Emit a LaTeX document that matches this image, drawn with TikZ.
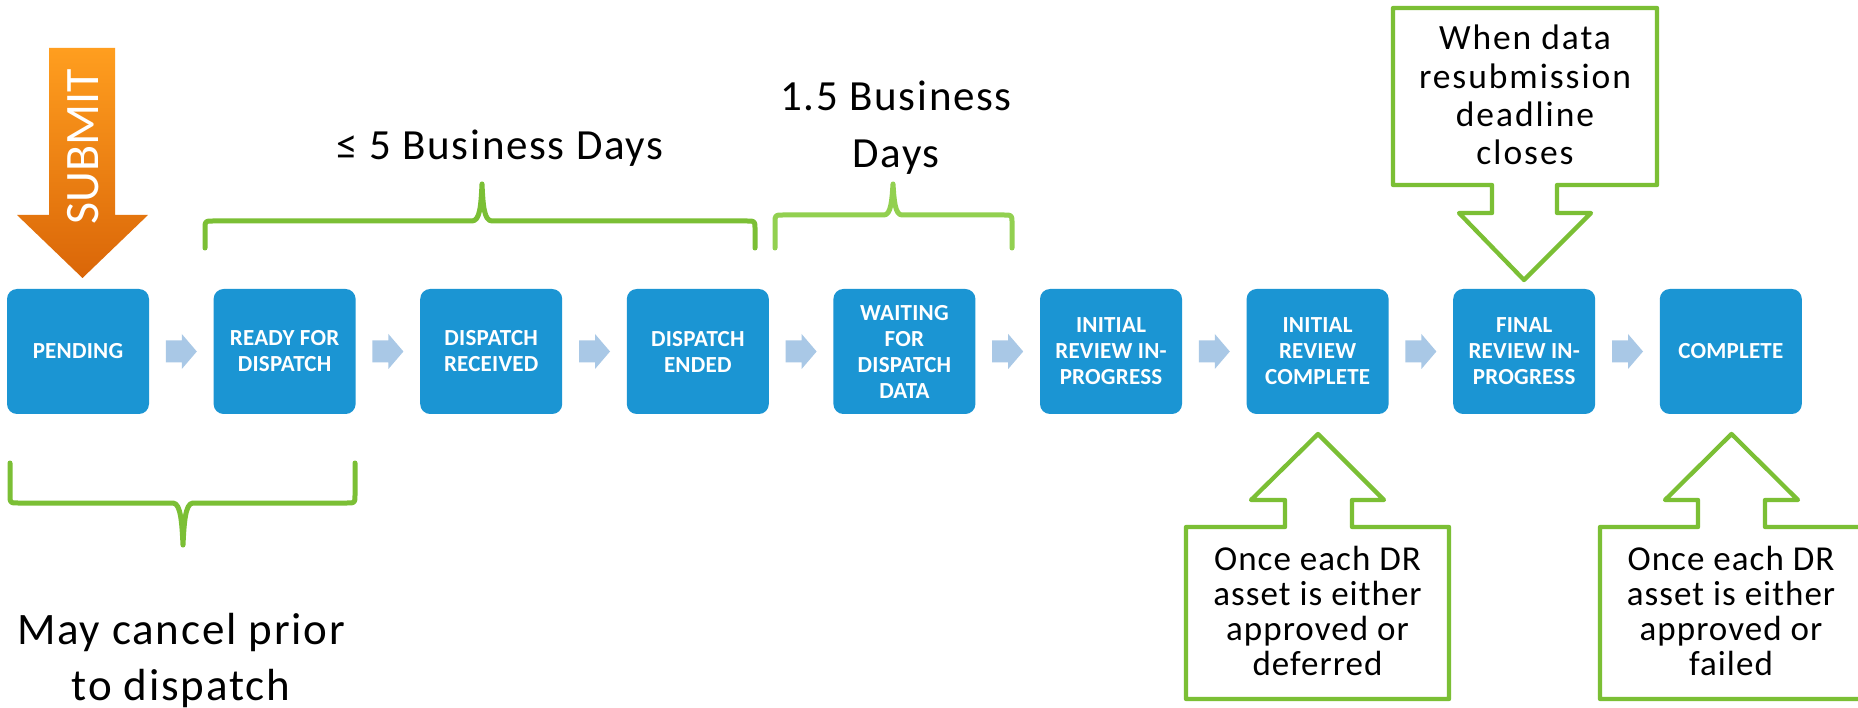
\documentclass[tikz,border=0pt]{standalone}
\usepackage{fontspec}
\setmainfont{Carlito}
\newfontfamily\lblfont{Carlito}[LetterSpace=4]
\newfontfamily\calfont{Carlito}[LetterSpace=3]
\newfontfamily\calwidefont{Carlito}[LetterSpace=5.5]
\newfontfamily\boxfont{Carlito}[LetterSpace=1]
\usetikzlibrary{calc}
\definecolor{boxblue}{HTML}{1B95D3}
\definecolor{arrowblue}{HTML}{A9C8E6}
\definecolor{grn}{HTML}{7BBF35}
\definecolor{grnlight}{HTML}{92D050}
\definecolor{orangetop}{HTML}{FF9E1F}
\definecolor{orangebot}{HTML}{DA6608}
\newcommand\stagearrow[2]{\fill[arrowblue] ($(#1.east)!0.5!(#2.west)$) ++(-15.5,11) -- ++(16,0) -- ++(0,6.5) -- ++(15,-17.5) -- ++(-15,-17.5) -- ++(0,6.5) -- ++(-16,0) -- cycle;}
\begin{document}
\begin{tikzpicture}[x=1pt,y=-1pt,
  stage/.style={fill=boxblue, rounded corners=10pt, minimum width=142pt, minimum height=125pt, inner sep=0pt, text=white, align=center, font={\boxfont\bfseries\fontsize{23}{26}\selectfont}},
  lbl/.style={align=center, inner sep=0pt, font={\lblfont\fontsize{43}{57}\selectfont}},
  calloutbox/.style={draw=grn, line width=4.3pt, fill=white, line join=round},
  callouttext/.style={align=center, inner sep=0pt},
  bracegreen/.style={draw=grn, line width=5pt, line cap=round, line join=round},
  bracelight/.style={draw=grnlight, line width=5pt, line cap=round, line join=round}]
\useasboundingbox (0,0) rectangle (1858,708);
\fill[white] (0,0) rectangle (1858,708);
% stages
\node[stage] (s1) at (78,351.5) {PENDING};
\node[stage] (s2) at (284.6,351.5) {READY FOR\\DISPATCH};
\node[stage] (s3) at (491.2,351.5) {DISPATCH\\RECEIVED};
\node[stage] (s4) at (697.8,351.5) {DISPATCH\\ENDED};
\node[stage] (s5) at (904.4,351.5) {WAITING\\FOR\\DISPATCH\\DATA};
\node[stage] (s6) at (1111,351.5) {INITIAL\\REVIEW IN-\\PROGRESS};
\node[stage] (s7) at (1317.6,351.5) {INITIAL\\REVIEW\\COMPLETE};
\node[stage] (s8) at (1524.2,351.5) {FINAL\\REVIEW IN-\\PROGRESS};
\node[stage] (s9) at (1730.8,351.5) {COMPLETE};
\stagearrow{s1}{s2}
\stagearrow{s2}{s3}
\stagearrow{s3}{s4}
\stagearrow{s4}{s5}
\stagearrow{s5}{s6}
\stagearrow{s6}{s7}
\stagearrow{s7}{s8}
\stagearrow{s8}{s9}
% submit arrow
\shade[top color=orangetop, bottom color=orangebot] (49,48) -- (115,48) -- (115,215) -- (148,215) -- (82.5,278) -- (17,215) -- (49,215) -- cycle;
\node[rotate=90, text=white, inner sep=0pt, font={\fontsize{48}{48}\selectfont}] (submit) at (83.5,146.5) {SUBMIT};
% braces
\draw[bracegreen] (205,248) -- (205,229) .. controls (205,221) .. (213,221) -- (472,221) .. controls (480,221) and (481,205) .. (482,184) .. controls (483,205) and (484,221) .. (492,221) -- (747,221) .. controls (755,221) .. (755,229) -- (755,248);
\draw[bracelight] (775,248) -- (775,223) .. controls (775,215) .. (783,215) -- (884,215) .. controls (891,215) and (892,200) .. (893,184) .. controls (894,200) and (895,215) .. (902,215) -- (1004,215) .. controls (1012,215) .. (1012,223) -- (1012,248);
\draw[bracegreen] (10,463) -- (10,495) .. controls (10,503) .. (18,503) -- (173,503) .. controls (181,503) and (182,525) .. (183,545) .. controls (184,525) and (185,503) .. (193,503) -- (347,503) .. controls (355,503) .. (355,495) -- (355,463);
% labels
\node[lbl, anchor=base] (lfive) at (500,160) {≤ 5 Business Days};
\node[lbl] (lonefive) at (896,127.5) {1.5 Business\\Days};
\node[lbl, font={\lblfont\fontsize{45}{56}\selectfont}] (lcancel) at (181,660) {May cancel prior\\to dispatch};
% callouts
\draw[calloutbox] (1393,8) -- (1657,8) -- (1657,185) -- (1557,185) -- (1557,213) -- (1591,213) -- (1524,280) -- (1459,213) -- (1492,213) -- (1492,185) -- (1393,185) -- cycle;
\node[callouttext, font={\calwidefont\fontsize{35.5}{38.3}\selectfont}] (cdeadline) at (1525,95) {When data\\resubmission\\deadline\\closes};
\draw[calloutbox] (1186,699) -- (1186,527) -- (1285,527) -- (1285,500) -- (1251,500) -- (1318,434) -- (1384,500) -- (1352,500) -- (1352,527) -- (1449,527) -- (1449,699) -- cycle;
\node[callouttext, font={\calfont\fontsize{35}{35.3}\selectfont}] (cdeferred) at (1317.5,611) {Once each DR\\asset is either\\approved or\\deferred};
\draw[calloutbox] (1600,699) -- (1600,527) -- (1698,527) -- (1698,500) -- (1665,500) -- (1731.5,434) -- (1798,500) -- (1765,500) -- (1765,527) -- (1863,527) -- (1863,699) -- cycle;
\node[callouttext, font={\calfont\fontsize{35}{35.3}\selectfont}] (cfailed) at (1731,611) {Once each DR\\asset is either\\approved or\\failed};
\end{tikzpicture}
\end{document}
